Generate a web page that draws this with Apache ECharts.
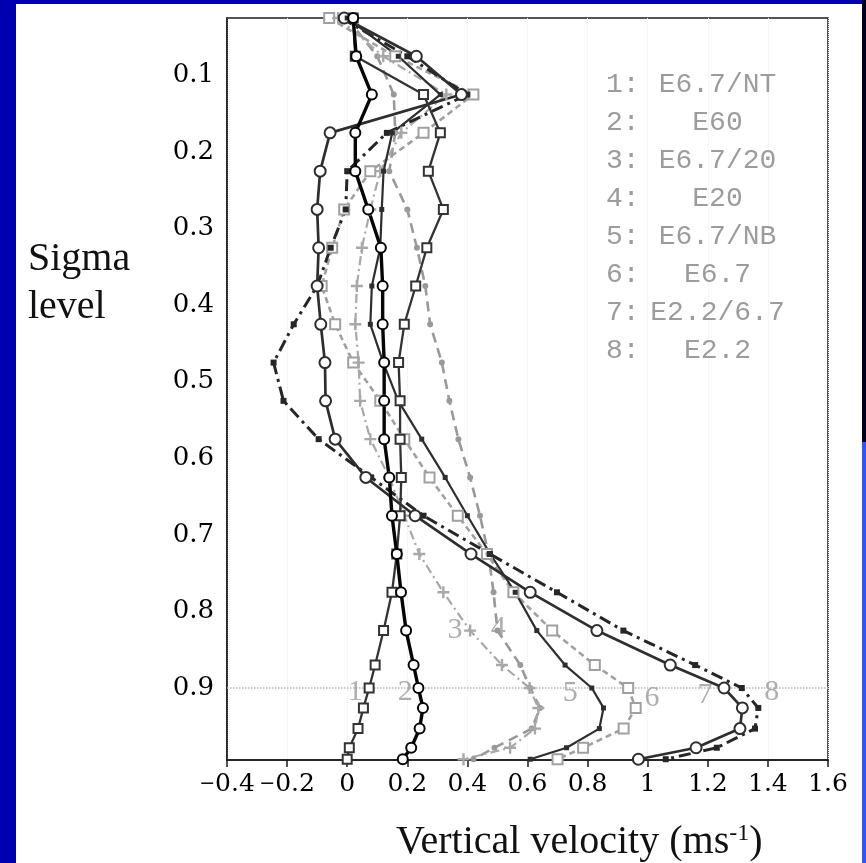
<!DOCTYPE html>
<html>
<head>
<meta charset="utf-8">
<script src="https://cdn.jsdelivr.net/npm/echarts@6/dist/echarts.min.js"></script>
<style>
  html, body { margin: 0; padding: 0; width: 866px; height: 863px; overflow: hidden; background: #0000b0; }
  #panel { position: absolute; left: 16px; top: 4px; width: 846px; height: 859px; background: #ffffff; }
  #edgeTop { position: absolute; left: 862px; top: 0; width: 4px; height: 442px; background: #00001e; }
  #edgeBot { position: absolute; left: 862px; top: 442px; width: 4px; height: 421px; background: #3355f5; }
  #chart { position: absolute; left: 0; top: 0; width: 866px; height: 863px; }
</style>
</head>
<body>
<div id="panel"></div>
<div id="edgeTop"></div>
<div id="edgeBot"></div>
<div id="chart"></div>
<script>
// Model sigma levels (top of atmosphere to surface)
const sigma = [0.025, 0.075, 0.125, 0.175, 0.225, 0.275, 0.325, 0.375, 0.425, 0.475, 0.525,
               0.575, 0.625, 0.675, 0.725, 0.775, 0.825, 0.87, 0.9, 0.926, 0.953, 0.978, 0.993];

// Vertical velocity profiles (m/s) for each experiment, one value per sigma level
const wE67NT  = [0.02, 0.027, 0.254, 0.31, 0.27, 0.32, 0.265, 0.228, 0.19, 0.171, 0.176, 0.176,
                 0.18, 0.176, 0.165, 0.149, 0.121, 0.093, 0.073, 0.054, 0.036, 0.007, 0.0];
const wE60    = [0.02, 0.03, 0.082, 0.027, 0.027, 0.07, 0.112, 0.118, 0.118, 0.123, 0.123, 0.123,
                 0.14, 0.149, 0.165, 0.179, 0.196, 0.221, 0.237, 0.252, 0.241, 0.213, 0.185];
const wE67_20 = [-0.03, 0.12, 0.33, 0.18, 0.11, 0.077, 0.049, 0.032, 0.027, 0.038, 0.043, 0.077,
                 0.14, 0.19, 0.24, 0.32, 0.409, 0.515, 0.607, 0.636, 0.625, 0.542, 0.387];
const wE20    = [0.0, 0.1, 0.155, 0.16, 0.14, 0.2, 0.232, 0.26, 0.276, 0.315, 0.34, 0.37,
                 0.409, 0.442, 0.47, 0.487, 0.5, 0.576, 0.609, 0.642, 0.614, 0.49, 0.42];
const wE67NB  = [0.0, 0.17, 0.31, 0.15, 0.121, 0.115, 0.11, 0.082, 0.077, 0.12, 0.17, 0.248,
                 0.326, 0.4, 0.476, 0.559, 0.631, 0.725, 0.814, 0.853, 0.839, 0.73, 0.609];
const wE67    = [-0.06, 0.16, 0.42, 0.254, 0.077, -0.01, -0.05, -0.085, -0.04, 0.02, 0.11, 0.19,
                 0.274, 0.368, 0.465, 0.553, 0.682, 0.824, 0.935, 0.96, 0.92, 0.785, 0.7];
const wE22_67 = [-0.01, 0.23, 0.38, -0.057, -0.09, -0.1, -0.095, -0.1, -0.088, -0.074, -0.072, -0.04,
                 0.062, 0.226, 0.412, 0.609, 0.831, 1.075, 1.254, 1.315, 1.307, 1.161, 0.969];
const wE22    = [-0.02, 0.2, 0.4, 0.132, 0.0, -0.005, -0.055, -0.1, -0.178, -0.245, -0.212, -0.095,
                 0.08, 0.254, 0.475, 0.698, 0.919, 1.158, 1.313, 1.368, 1.357, 1.23, 1.06];

const expNames = ['E6.7/NT', 'E60', 'E6.7/20', 'E20', 'E6.7/NB', 'E6.7', 'E2.2/6.7', 'E2.2'];
const profiles = [wE67NT, wE60, wE67_20, wE20, wE67NB, wE67, wE22_67, wE22];

// Curve number tags placed near the lower-troposphere end of each curve (velocity, sigma)
const tagText  = ['1', '2', '3', '4', '5', '6', '7', '8'];
const tagVel   = [0.027, 0.193, 0.359, 0.503, 0.742, 1.014, 1.191, 1.413];
const tagSigma = [0.905, 0.905, 0.824, 0.822, 0.907, 0.913, 0.909, 0.905];

// Axis ticks
const sigmaTicks = [0.1, 0.2, 0.3, 0.4, 0.5, 0.6, 0.7, 0.8, 0.9];
const velocityTicks = [-0.4, -0.2, 0, 0.2, 0.4, 0.6, 0.8, 1.0, 1.2, 1.4, 1.6];

const plusPath = 'path://M4,0 L6,0 L6,4 L10,4 L10,6 L6,6 L6,10 L4,10 L4,6 L0,6 L0,4 L4,4 Z';

const styles = [
  { color: '#333333', width: 2.3, type: 'solid',        symbol: 'emptyRect',   size: 9,  bw: 2.2 },
  { color: '#050505', width: 3.4, type: 'solid',        symbol: 'emptyCircle', size: 10, bw: 2.8 },
  { color: '#a8a8a8', width: 2.2, type: [9, 4, 2, 4],   symbol: plusPath,      size: 12, bw: 0 },
  { color: '#999999', width: 2.6, type: [10, 6],        symbol: 'circle',      size: 6,  bw: 0 },
  { color: '#2e2e2e', width: 2.2, type: 'solid',        symbol: 'rect',        size: 5,  bw: 0 },
  { color: '#a0a0a0', width: 2.6, type: [6, 4],         symbol: 'emptyRect',   size: 10, bw: 2.5 },
  { color: '#2e2e2e', width: 2.7, type: 'solid',        symbol: 'emptyCircle', size: 11, bw: 2.6 },
  { color: '#262626', width: 3,   type: [12, 5, 3, 5],  symbol: 'rect',        size: 6,  bw: 0 }
];

const drawOrder = [5, 3, 2, 7, 6, 4, 0, 1];

const chart = echarts.init(document.getElementById('chart'), null, { renderer: 'canvas' });

const lineSeries = drawOrder.map(function (k) {
  const st = styles[k];
  const s = {
    name: expNames[k],
    type: 'line',
    data: profiles[k].map(function (v, i) { return [v, sigma[i]]; }),
    symbol: st.symbol,
    symbolSize: st.size,
    showAllSymbol: true,
    clip: false,
    lineStyle: { color: st.color, width: st.width, type: st.type },
    itemStyle: { color: st.color, borderColor: st.color, borderWidth: st.bw },
    emphasis: { disabled: true },
    silent: true,
    z: 3
  };
  if (k === 0) {
    s.markLine = {
      silent: true,
      symbol: 'none',
      label: { show: false },
      lineStyle: { type: 'dotted', color: '#b8b8b8', width: 1.5 },
      data: [{ yAxis: 0.9 }],
      z: 1
    };
  }
  return s;
});

const tagSeries = {
  name: 'tags',
  type: 'scatter',
  symbolSize: 0,
  silent: true,
  z: 5,
  data: tagText.map(function (t, i) { return { name: t, value: [tagVel[i], tagSigma[i]] }; }),
  label: {
    show: true,
    position: 'inside',
    formatter: function (p) { return p.name; },
    fontFamily: 'Liberation Serif',
    fontSize: 30,
    color: '#9a9a9a'
  }
};

const tickFont = { fontFamily: 'DejaVu Serif', fontSize: 25, color: '#000' };

const option = {
  animation: false,
  backgroundColor: 'transparent',
  grid: {
    left: 227, top: 18, width: 601, height: 742,
    show: true, borderColor: '#1a1a1a', borderWidth: 1.5, backgroundColor: 'transparent'
  },
  legend: {
    orient: 'vertical',
    left: 595,
    top: 65,
    itemWidth: 0,
    itemHeight: 0,
    itemGap: 8,
    selectedMode: false,
    itemStyle: { opacity: 0 },
    lineStyle: { opacity: 0 },
    data: expNames,
    formatter: function (name) {
      return '{n|' + (expNames.indexOf(name) + 1) + ':}{m|' + name + '}';
    },
    textStyle: {
      fontFamily: 'Liberation Mono',
      fontSize: 28,
      color: '#9c9c9c',
      lineHeight: 30,
      rich: {
        n: { width: 40, align: 'left', fontFamily: 'Liberation Mono', fontSize: 28, color: '#9c9c9c', lineHeight: 30 },
        m: { width: 143, align: 'center', fontFamily: 'Liberation Mono', fontSize: 28, color: '#9c9c9c', lineHeight: 30 }
      }
    }
  },
  xAxis: {
    type: 'value',
    min: -0.4,
    max: 1.6,
    interval: 0.2,
    axisLine: { show: true, onZero: false, lineStyle: { color: '#1a1a1a', width: 1.5 } },
    axisTick: { show: true, inside: false, length: 7, lineStyle: { color: '#1a1a1a', width: 1.5 } },
    splitLine: { show: true, lineStyle: { type: 'dotted', color: '#ececec', width: 1 } },
    axisLabel: {
      customValues: velocityTicks,
      margin: 12,
      hideOverlap: false,
      showMinLabel: true,
      showMaxLabel: true,
      fontFamily: 'DejaVu Serif',
      fontSize: 25,
      color: '#000',
      rich: {
        d: tickFont,
        neg: { fontFamily: 'DejaVu Serif', fontSize: 19, color: '#000' }
      },
      formatter: function (v) {
        const t = Math.round(v * 10) / 10;
        return t < 0 ? '{neg|\u2212}{d|' + String(Math.abs(t)) + '}' : '{d|' + String(t) + '}';
      }
    }
  },
  yAxis: {
    type: 'value',
    inverse: true,
    min: 0.025,
    max: 0.994,
    axisLine: { show: true, onZero: false, lineStyle: { color: '#1a1a1a', width: 1.5 } },
    axisTick: { show: false },
    splitLine: { show: false },
    axisLabel: {
      customValues: sigmaTicks,
      margin: 13,
      fontFamily: 'DejaVu Serif',
      fontSize: 26,
      color: '#000',
      formatter: function (v) { return v.toFixed(1); }
    }
  },
  graphic: [
    {
      type: 'text',
      left: 28,
      top: 235,
      silent: true,
      style: {
        text: 'Sigma\nlevel',
        fontFamily: 'Liberation Serif',
        fontSize: 40,
        lineHeight: 48,
        fill: '#111'
      }
    },
    {
      type: 'text',
      left: 396,
      top: 818,
      silent: true,
      style: {
        text: '{a|Vertical velocity (ms}{s|-1}{a|)}',
        rich: {
          a: { fontFamily: 'Liberation Serif', fontSize: 40, lineHeight: 48, fill: '#111', color: '#111' },
          s: { fontFamily: 'Liberation Serif', fontSize: 24, lineHeight: 48, verticalAlign: 'top', fill: '#111', color: '#111', padding: [4, 0, 0, 0] }
        }
      }
    }
  ],
  series: lineSeries.concat([tagSeries])
};

chart.setOption(option);
</script>
</body>
</html>
